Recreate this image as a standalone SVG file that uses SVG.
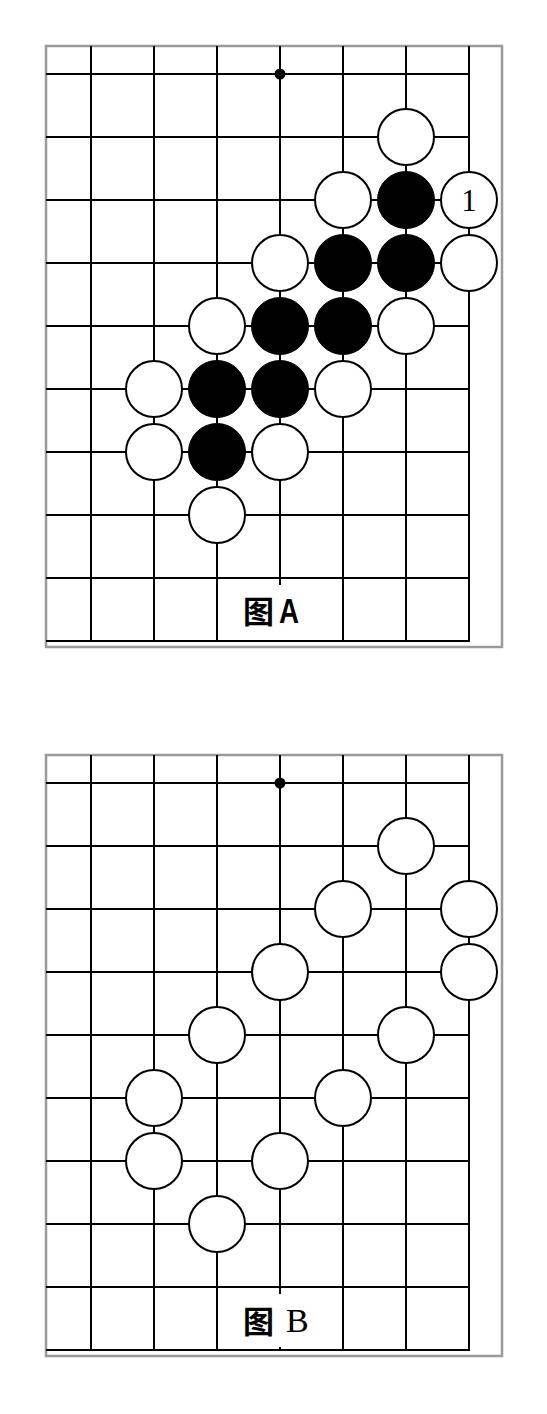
<svg xmlns="http://www.w3.org/2000/svg" width="547" height="1414" viewBox="0 0 547 1414">
<style>
.frame{fill:none;stroke:#9a9a9a;stroke-width:2.5}
.ln{stroke:#000;stroke-width:2;fill:none}
.w{fill:#fff;stroke:#000;stroke-width:2}
.b{fill:#000;stroke:#000;stroke-width:1}
.cj{font-family:"Noto Sans CJK SC","Noto Sans CJK JP",sans-serif;font-weight:bold;font-size:31px}
</style>
<defs>
<g id="grid">
<path class="ln" d="M91 46V641M154 46V641M217 46V641M343 46V641M406 46V641M469 46V641M280 46V585M46 74H469M46 137H469M46 200H469M46 263H469M46 326H469M46 389H469M46 452H469M46 515H469M46 578H469M46 641H470"/>
<circle cx="280" cy="74" r="5.5" fill="#000"/>
</g>
<circle id="ws" r="28" class="w"/>
<circle id="bs" r="28.5" class="b"/>
</defs>
<g id="boardA">
<rect class="frame" x="46" y="46" width="456" height="601"/>
<g id="connectorsA"><use href="#grid"/></g>
<g id="stonesA">
<use href="#ws" x="406" y="137"/>
<use href="#ws" x="343" y="200"/><use href="#bs" x="406" y="200"/><use href="#ws" x="469" y="200"/>
<use href="#ws" x="280" y="263"/><use href="#bs" x="343" y="263"/><use href="#bs" x="406" y="263"/><use href="#ws" x="469" y="263"/>
<use href="#ws" x="217" y="326"/><use href="#bs" x="280" y="326"/><use href="#bs" x="343" y="326"/><use href="#ws" x="406" y="326"/>
<use href="#ws" x="154" y="389"/><use href="#bs" x="217" y="389"/><use href="#bs" x="280" y="389"/><use href="#ws" x="343" y="389"/>
<use href="#ws" x="154" y="452"/><use href="#bs" x="217" y="452"/><use href="#ws" x="280" y="452"/>
<use href="#ws" x="217" y="515"/>
<text x="469" y="211" text-anchor="middle" font-family="Liberation Serif,serif" font-size="31">1</text>
</g>
<g id="labelA">
<text class="cj" x="243" y="623">图</text>
<text x="279" y="623" font-family="Liberation Sans,sans-serif" font-weight="bold" font-size="35" textLength="20" lengthAdjust="spacingAndGlyphs">A</text>
</g>
</g>
<g id="boardB">
<rect class="frame" x="46" y="755" width="456" height="601"/>
<g id="connectorsB" transform="translate(0,709)"><use href="#grid"/><path class="ln" d="M280 638V642"/></g>
<g id="stonesB">
<use href="#ws" x="406" y="846"/>
<use href="#ws" x="343" y="909"/><use href="#ws" x="469" y="909"/>
<use href="#ws" x="280" y="972"/><use href="#ws" x="469" y="972"/>
<use href="#ws" x="217" y="1035"/><use href="#ws" x="406" y="1035"/>
<use href="#ws" x="154" y="1098"/><use href="#ws" x="343" y="1098"/>
<use href="#ws" x="154" y="1161"/><use href="#ws" x="280" y="1161"/>
<use href="#ws" x="217" y="1224"/>
</g>
<g id="labelB">
<text class="cj" x="243" y="1333">图</text>
<text x="286" y="1332" font-family="Liberation Serif,serif" font-size="34">B</text>
</g>
</g>
</svg>
